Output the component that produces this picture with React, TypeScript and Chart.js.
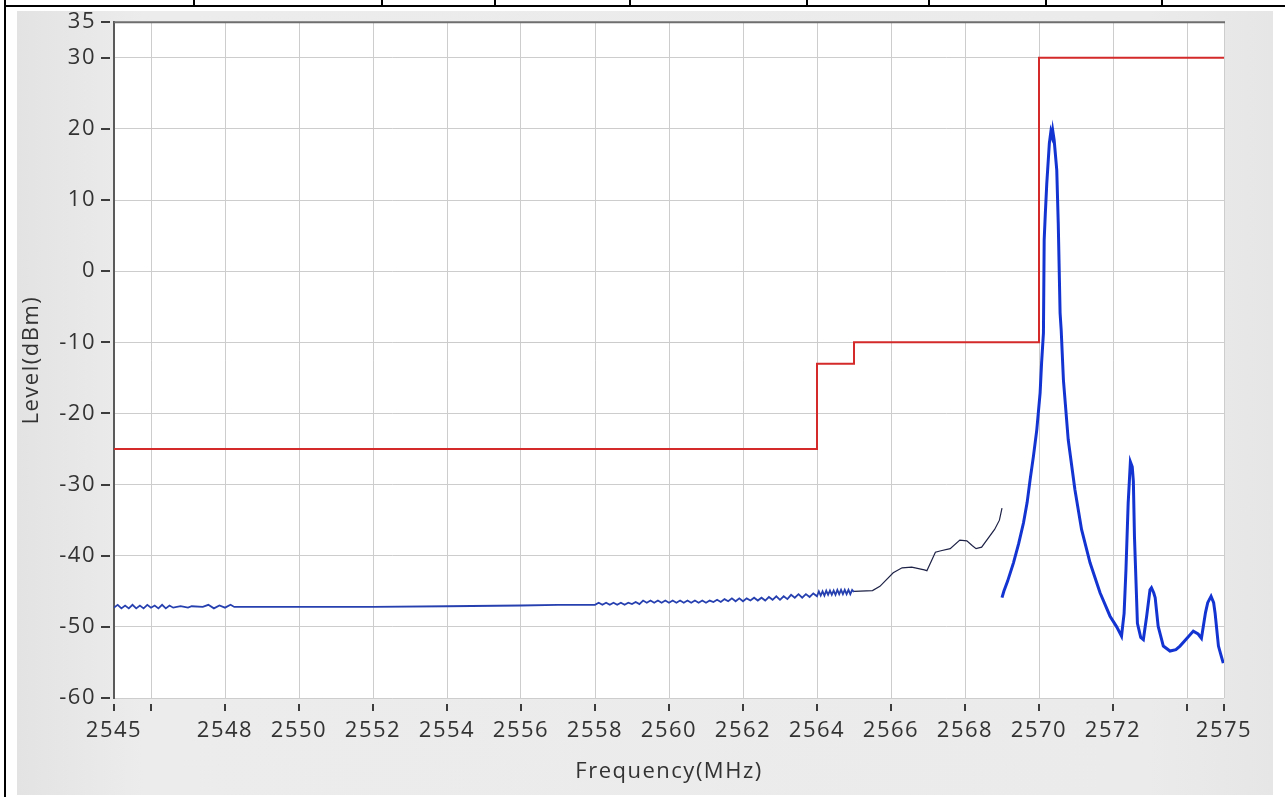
import React, { useEffect, useRef } from "react";
import { Chart, registerables } from "chart.js";

Chart.register(...registerables);

// ---- axis ticks ----
const xTickValues = [2545, 2546, 2548, 2550, 2552, 2554, 2556, 2558, 2560, 2562, 2564, 2566, 2568, 2570, 2572, 2574, 2575];
const xTickLabels = ["2545", "", "2548", "2550", "2552", "2554", "2556", "2558", "2560", "2562", "2564", "2566", "2568", "2570", "2572", "", "2575"];
const yTickValues = [-60, -50, -40, -30, -20, -10, 0, 10, 20, 30, 35];

// ---- limit mask (red) ----
const limitFreq = [2545, 2564, 2564, 2565, 2565, 2570, 2570, 2575];
const limitLevel = [-25, -25, -13, -13, -10, -10, 30, 30];

// ---- measured spectrum, low band (blue, thin) ----
const lowFreq = [
  2545.0, 2545.1, 2545.2, 2545.3, 2545.4, 2545.5, 2545.6, 2545.7, 2545.8, 2545.9,
  2546.0, 2546.1, 2546.2, 2546.3, 2546.4, 2546.5, 2546.6, 2546.8, 2547.0, 2547.1,
  2547.4, 2547.55, 2547.7, 2547.85, 2548.0, 2548.15, 2548.25, 2550.0, 2552.0, 2554.0,
  2556.0, 2557.0, 2558.0, 2558.1, 2558.2, 2558.3, 2558.4, 2558.5, 2558.6, 2558.7,
  2558.8, 2558.9, 2559.0, 2559.1, 2559.2, 2559.3, 2559.4, 2559.5, 2559.6, 2559.7,
  2559.8, 2559.9, 2560.0, 2560.1, 2560.2, 2560.3, 2560.4, 2560.5, 2560.6, 2560.7,
  2560.8, 2560.9, 2561.0, 2561.1, 2561.2, 2561.3, 2561.4, 2561.5, 2561.6, 2561.7,
  2561.8, 2561.9, 2562.0, 2562.1, 2562.2, 2562.3, 2562.4, 2562.5, 2562.6, 2562.7,
  2562.8, 2562.9, 2563.0, 2563.1, 2563.2, 2563.3, 2563.4, 2563.5, 2563.6, 2563.7,
  2563.8, 2563.9, 2564.0, 2564.05, 2564.1, 2564.15, 2564.2, 2564.25, 2564.3, 2564.35,
  2564.4, 2564.45, 2564.5, 2564.55, 2564.6, 2564.65, 2564.7, 2564.75, 2564.8, 2564.85,
  2564.9, 2564.95, 2565.0,
];
const lowLevel = [
  -47.3, -46.9, -47.4, -47.0, -47.4, -46.9, -47.4, -47.0, -47.4, -46.9,
  -47.3, -47.0, -47.4, -46.9, -47.4, -47.0, -47.3, -47.1, -47.3, -47.1,
  -47.2, -46.9, -47.4, -47.0, -47.3, -46.9, -47.2, -47.2, -47.2, -47.1,
  -47.0, -46.9, -46.9, -46.6, -46.9, -46.6, -46.9, -46.6, -46.9, -46.6,
  -46.9, -46.6, -46.8, -46.5, -46.8, -46.3, -46.6, -46.3, -46.6, -46.3,
  -46.6, -46.3, -46.6, -46.3, -46.6, -46.3, -46.6, -46.3, -46.6, -46.3,
  -46.6, -46.3, -46.6, -46.3, -46.5, -46.2, -46.5, -46.1, -46.4, -46.0,
  -46.4, -46.0, -46.4, -46.0, -46.3, -45.9, -46.3, -45.9, -46.3, -45.8,
  -46.2, -45.7, -46.2, -45.7, -46.1, -45.5, -45.9, -45.4, -45.9, -45.4,
  -45.8, -45.3, -45.7, -45.0, -45.6, -45.0, -45.6, -44.9, -45.5, -44.9,
  -45.5, -44.9, -45.5, -44.8, -45.4, -44.8, -45.4, -44.8, -45.4, -44.8,
  -45.4, -44.8, -45.1,
];

// ---- measured spectrum, transition (dark, thin) ----
const midFreq = [2565.0, 2565.5, 2565.7, 2566.06, 2566.3, 2566.56, 2566.9, 2566.97, 2567.2, 2567.35, 2567.6, 2567.86, 2568.05, 2568.2, 2568.3, 2568.45, 2568.8, 2568.93, 2569.0];
const midLevel = [-45.0, -44.9, -44.3, -42.4, -41.7, -41.6, -42.0, -42.1, -39.5, -39.3, -39.0, -37.8, -37.9, -38.6, -39.0, -38.8, -36.3, -35.0, -33.3];

// ---- measured spectrum, carrier band (blue, thick) ----
const highFreq = [
  2569.0, 2569.05, 2569.15, 2569.31, 2569.45, 2569.58, 2569.68, 2569.76, 2569.85, 2569.94,
  2570.03, 2570.07, 2570.12, 2570.14, 2570.17, 2570.21, 2570.28, 2570.32, 2570.35, 2570.37,
  2570.41, 2570.48, 2570.52, 2570.57, 2570.6, 2570.66, 2570.79, 2570.97, 2571.15, 2571.38,
  2571.65, 2571.92, 2572.1, 2572.23, 2572.3, 2572.35, 2572.41, 2572.47, 2572.52, 2572.55,
  2572.58, 2572.66, 2572.75, 2572.82, 2572.91, 2573.0, 2573.04, 2573.1, 2573.14, 2573.22,
  2573.36, 2573.54, 2573.7, 2573.81, 2574.0, 2574.17, 2574.3, 2574.39, 2574.5, 2574.56,
  2574.65, 2574.72, 2574.76, 2574.85, 2574.92, 2574.98,
];
const highLevel = [
  -45.9, -45.0, -43.6, -41.0, -38.3, -35.4, -32.5, -29.3, -26.0, -22.3,
  -17.1, -12.9, -8.7, 4.4, 8.0, 12.3, 18.0, 19.6, 19.0, 19.8,
  18.4, 14.2, 6.8, -5.9, -8.3, -15.3, -23.7, -30.7, -36.3, -41.0,
  -45.2, -48.5, -50.0, -51.3, -48.1, -42.0, -32.6, -26.8, -27.5, -29.5,
  -37.3, -49.5, -51.5, -51.8, -48.5, -44.8, -44.5, -45.2, -45.9, -49.9,
  -52.7, -53.4, -53.2, -52.7, -51.6, -50.6, -51.0, -51.6, -48.0, -46.6,
  -45.7, -46.6, -48.1, -52.7, -54.0, -55.1,
];

const tableDividers = [193, 381, 494, 629, 806, 928, 1045, 1161];

const pts = (xs: number[], ys: number[]) => xs.map((x, i) => ({ x, y: ys[i] }));

const FONT = "'Open Sans', 'Noto Sans', sans-serif";
const TEXT = "#333333";

const decorPlugin = {
  id: "decor",
  beforeDraw(chart: any) {
    const { ctx, chartArea } = chart;
    ctx.save();
    ctx.fillStyle = "#ffffff";
    ctx.fillRect(chartArea.left, chartArea.top, chartArea.right - chartArea.left, chartArea.bottom - chartArea.top);
    ctx.restore();
    try {
      (ctx as any).letterSpacing = "1.5px";
    } catch (e) {}
  },
  afterDraw(chart: any) {
    const { ctx, chartArea, scales } = chart;
    ctx.save();
    ctx.strokeStyle = "#3c3c3c";
    ctx.lineWidth = 2;
    ctx.beginPath();
    for (const v of yTickValues) {
      const py = Math.round(scales.y.getPixelForValue(v));
      ctx.moveTo(chartArea.left - 13, py);
      ctx.lineTo(chartArea.left - 4, py);
    }
    for (const v of xTickValues) {
      const px = Math.round(scales.x.getPixelForValue(v));
      ctx.moveTo(px, chartArea.bottom + 6);
      ctx.lineTo(px, chartArea.bottom + 13);
    }
    ctx.stroke();
    // top border of plot
    ctx.strokeStyle = "#6e6e6e";
    ctx.lineWidth = 2;
    ctx.beginPath();
    ctx.moveTo(chartArea.left, chartArea.top);
    ctx.lineTo(chartArea.right + 1, chartArea.top);
    ctx.stroke();
    ctx.restore();
  },
};

export default function App() {
  const ref = useRef<HTMLCanvasElement>(null);

  useEffect(() => {
    if (!ref.current) return;
    const chart = new Chart(ref.current, {
      type: "line",
      data: {
        datasets: [
          {
            label: "Limit",
            data: pts(limitFreq, limitLevel),
            borderColor: "#d42a2a",
            borderWidth: 2,
            pointRadius: 0,
            tension: 0,
          },
          {
            label: "Low band",
            data: pts(lowFreq, lowLevel),
            borderColor: "#2740b0",
            borderWidth: 1.8,
            pointRadius: 0,
            tension: 0,
          },
          {
            label: "Transition",
            data: pts(midFreq, midLevel),
            borderColor: "#1e2246",
            borderWidth: 1.2,
            pointRadius: 0,
            tension: 0,
          },
          {
            label: "Carrier",
            data: pts(highFreq, highLevel),
            borderColor: "#1434d2",
            borderWidth: 3,
            pointRadius: 0,
            tension: 0,
          },
        ],
      },
      options: {
        animation: false,
        responsive: false,
        devicePixelRatio: 1,
        layout: { padding: { top: 0, right: 49, left: 0, bottom: 0 } },
        plugins: { legend: { display: false }, tooltip: { enabled: false } },
        scales: {
          x: {
            type: "linear",
            min: 2545,
            max: 2575,
            afterBuildTicks: (s: any) => {
              s.ticks = xTickValues.map((value) => ({ value }));
            },
            afterFit: (s: any) => {
              s.height = 97;
            },
            ticks: {
              autoSkip: false,
              maxRotation: 0,
              padding: 20,
              color: TEXT,
              font: { family: FONT, size: 22 },
              callback: (v: any) => {
                const i = xTickValues.indexOf(Number(v));
                return i >= 0 ? xTickLabels[i] : "";
              },
            },
            grid: { color: "#cdcdcd", lineWidth: 1, drawTicks: false },
            border: { display: false },
            title: {
              display: true,
              text: "Frequency(MHz)",
              color: TEXT,
              font: { family: FONT, size: 22 },
              padding: { top: 0, bottom: 10 },
            },
          },
          y: {
            type: "linear",
            min: -60,
            max: 35,
            afterBuildTicks: (s: any) => {
              s.ticks = yTickValues.map((value) => ({ value }));
            },
            afterFit: (s: any) => {
              s.width = 97;
            },
            ticks: {
              autoSkip: false,
              padding: 18,
              color: TEXT,
              font: { family: FONT, size: 22 },
              callback: (v: any) => String(v),
            },
            grid: { color: "#cdcdcd", lineWidth: 1, drawTicks: false },
            border: { display: true, color: "#5a5a5a", width: 2 },
            title: {
              display: true,
              text: "Level(dBm)",
              color: TEXT,
              font: { family: FONT, size: 22 },
              padding: { top: 2, bottom: 0 },
            },
          },
        },
      },
      plugins: [decorPlugin],
    } as any);
    return () => chart.destroy();
  }, []);

  return (
    <div
      style={{
        position: "fixed",
        left: 0,
        top: 0,
        width: 1285,
        height: 797,
        background: "#ffffff",
        overflow: "hidden",
      }}
    >
      <div style={{ position: "absolute", left: 4, top: 0, width: 2, height: 797, background: "#000" }} />
      <div style={{ position: "absolute", left: 4, top: 5, width: 1281, height: 2, background: "#000" }} />
      {tableDividers.map((x) => (
        <div key={x} style={{ position: "absolute", left: x, top: 0, width: 2, height: 6, background: "#000" }} />
      ))}
      <div
        style={{
          position: "absolute",
          left: 17,
          top: 11,
          width: 1256,
          height: 784,
          background: "linear-gradient(90deg, #e3e3e3 0%, #ececec 10%, #ebebeb 90%, #e6e6e6 100%)",
        }}
      />
      <canvas
        ref={ref}
        width={1256}
        height={804}
        style={{ position: "absolute", left: 17, top: -9, display: "block", width: 1256, height: 804 }}
      />
    </div>
  );
}
